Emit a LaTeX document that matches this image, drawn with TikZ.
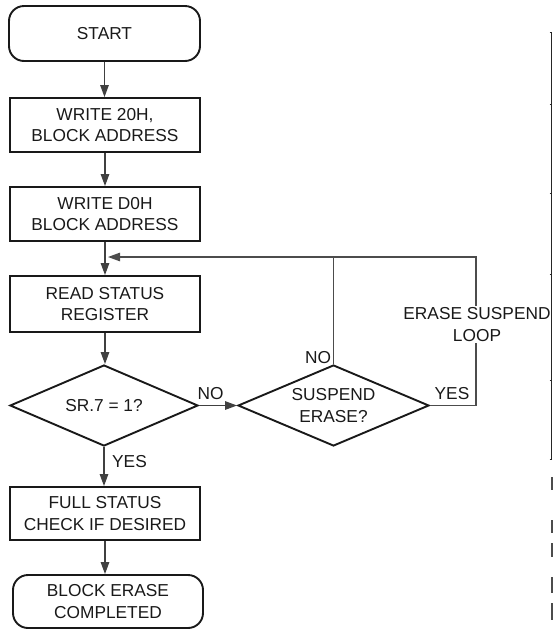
\documentclass[tikz,border=0pt]{standalone}
\usepackage{fontspec}
\setmainfont{Liberation Sans}
\usetikzlibrary{shapes.geometric,arrows.meta}
\begin{document}
\begin{tikzpicture}[x=1pt,y=-1pt,
  every node/.style={font=\fontsize{17.3}{21.7}\selectfont, text=black!90},
  procbox/.style={draw=black!90, line width=1.9pt, rectangle, minimum width=190pt, align=center, inner sep=0pt},
  termbox/.style={procbox, rounded corners=15pt},
  decide/.style={draw=black!90, line width=1.9pt, diamond, shape aspect=2.3, inner sep=0pt, align=center},
  flow/.style={draw=black!75, line width=1.3pt, -{Triangle[length=12pt,width=8.5pt]}},
  wire/.style={draw=black!70, line width=1.1pt},
  lbl/.style={inner sep=0pt}
]
\useasboundingbox (0,0) rectangle (553,630);

\node[termbox, minimum width=191pt, minimum height=55pt] (start) at (104.5,33.5) {START};
\node[procbox, minimum height=54pt] (w20) at (105,125) {WRITE 20H,\\BLOCK ADDRESS};
\node[procbox, minimum height=54pt] (wd0) at (105,214) {WRITE D0H\\BLOCK ADDRESS};
\node[procbox, minimum height=56pt] (rsr) at (105,304) {READ STATUS\\REGISTER};
\node[decide, minimum width=188pt, minimum height=81pt] (d1) at (104,405.5) {SR.7 = 1?};
\node[decide, minimum width=191pt, minimum height=81pt] (d2) at (333.5,405.5) {SUSPEND\\ERASE?};
\node[procbox, minimum height=53pt] (fsc) at (105,513.5) {FULL STATUS\\CHECK IF DESIRED};
\node[termbox, minimum width=190pt, minimum height=53pt] (done) at (108,601.5) {BLOCK ERASE\\COMPLETED};

\coordinate (loopin) at (108,257);
\coordinate (topmid) at (333.5,257);
\coordinate (rc) at (476,257);

\draw[flow] (start.south) -- (start.south |- w20.north);
\draw[flow] (w20.south) -- (wd0.north);
\draw[flow] (wd0.south) -- (rsr.north);
\draw[flow] (rsr.south) -- (rsr.south |- d1.north);
\draw[flow] (d1.south) -- (d1.south |- fsc.north);
\draw[flow] (fsc.south) -- (fsc.south |- done.north);
\draw[flow] (d1.east) -- (d2.west);
\draw[wire] (d2.north) -- (topmid);
\draw[wire] (d2.east) -| (rc) -- (topmid);
\draw[flow, line width=1.1pt, draw=black!70] (topmid) -- (loopin);

\node[lbl, anchor=west] (yes1) at (112,462) {YES};
\node[lbl] (no1) at (210.5,394) {NO};
\node[lbl] (no2) at (318,358) {NO};
\node[lbl] (yes2) at (452,394) {YES};
\node[lbl, fill=white, inner sep=1.5pt, align=center] (esl) at (477,324.5) {ERASE SUSPEND\\LOOP};

% cropped table edge on the right
\coordinate (tt) at (551.5,32);
\coordinate (tb) at (551.5,459);
\draw[black!85, line width=1pt] (tt) -- (tb);
\foreach \yy in {32,104,193,274,380,459}
  \draw[black!85, line width=1pt] (549.5,\yy) -- (551.5,\yy);
\foreach \ya/\yb in {477/490,520/533,543/557,577/593,603/620}
  \fill[black!70] (550.5,\ya) rectangle (553,\yb);
\end{tikzpicture}
\end{document}
